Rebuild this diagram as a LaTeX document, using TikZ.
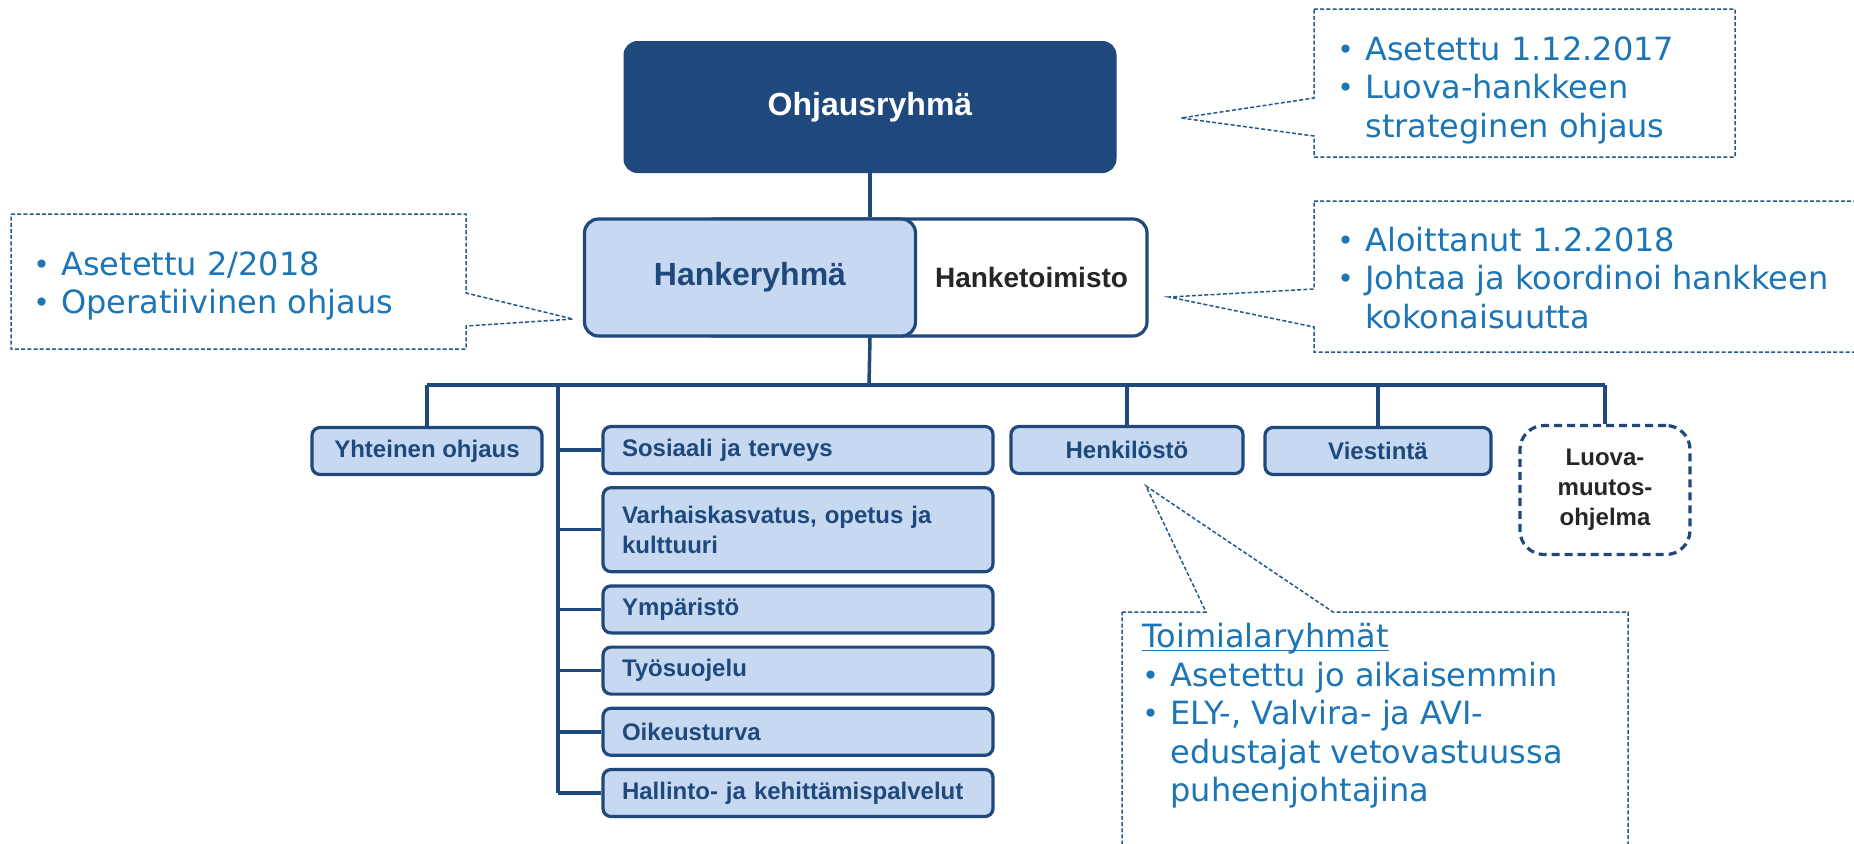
\documentclass[tikz,border=0pt]{standalone}
\usepackage{fontspec}
\setmainfont{Liberation Sans}
\newfontfamily\callfont{DejaVu Sans}
\usetikzlibrary{positioning,calc}
\definecolor{navy}{HTML}{1F497D}
\definecolor{paleblue}{HTML}{C6D9F1}
\definecolor{notetext}{HTML}{1B75B6}
\definecolor{noteline}{HTML}{24588A}
\newcommand{\bul}{\makebox[14pt][l]{\raisebox{0.5pt}{\fontsize{14}{14}\selectfont •}}}
\newcommand{\notehead}[1]{\underline{\raisebox{0pt}[\height][0pt]{#1}}}

\begin{document}
\begin{tikzpicture}[x=0.5pt,y=-0.5pt,
  unit/.style={
    draw=navy,
    line width=1.6pt,
    fill=paleblue,
    rounded corners=4pt,
    text=navy,
    minimum height=23.5pt,
    inner sep=0pt,
    font=\bfseries\fontsize{12}{15}\selectfont},
  sub/.style={unit, text width=176pt, align=left, inner xsep=9.5pt},
  link/.style={draw=navy, line width=1.75pt},
  note/.style={draw=noteline, line width=0.75pt, dash pattern=on 2pt off 1.1pt},
  notetxt/.style={font=\callfont\fontsize{16}{19.25}\selectfont, text=notetext, align=left, inner sep=0pt, anchor=west},
  ]

  \useasboundingbox (0,0) rectangle (1854,843);
  \clip (0,0) rectangle (1854,843);

  \node (steer) [fill=navy, rounded corners=7pt, minimum width=246.5pt, minimum height=66pt, text=white, font=\bfseries\fontsize{16}{19}\selectfont] at (870,107) {Ohjausryhmä};

  \node (office) [draw=navy, line width=1.6pt, fill=white, rounded corners=7pt, minimum height=58.5pt, text width=204.5pt, inner xsep=9.5pt, align=right, text=black!85, font=\bfseries\fontsize{14}{17}\selectfont] at (923.5,277.5) {Hanketoimisto};
  \node (project) [unit, rounded corners=7pt, minimum width=165.5pt, minimum height=58.5pt, font=\bfseries\fontsize{16}{19}\selectfont] at (750,277.5) {Hankeryhmä};

  \coordinate (bus) at (869,385);
  \coordinate (spine) at (558,385);

  \node (joint) [unit, minimum width=115pt] at (427,451) {Yhteinen ohjaus};
  \node (social) [sub] at (798,450) {Sosiaali ja terveys};
  \node (school) [sub, minimum height=42pt, below=5.5pt of social] {Varhaiskasvatus, opetus ja\\kulttuuri};
  \node (environ) [sub, below=5.5pt of school] {Ympäristö};
  \node (safety) [sub, below=5.5pt of environ] {Työsuojelu};
  \node (legal) [sub, below=5.5pt of safety] {Oikeusturva};
  \node (admin) [sub, below=5.5pt of legal] {Hallinto- ja kehittämispalvelut};
  \node (staff) [unit, minimum width=116pt] at (1127,450) {Henkilöstö};
  \node (comms) [unit, minimum width=113pt] at (1378,451) {Viestintä};
  \node (change) [unit, fill=white, dash pattern=on 4pt off 2.5pt, rounded corners=12pt, minimum width=85pt, minimum height=64.5pt, align=center, text=black!85] at (1605,490) {Luova-\\muutos-\\ohjelma};

  % org lines
  \draw[link] (steer.south) -- (steer.south |- project.north);
  \draw[link] (project.south -| steer.south) -- (bus);
  \draw[link] (joint.north |- bus) -- (change.north |- bus);
  \draw[link] (joint.north |- bus) -- (joint.north);
  \draw[link] (staff.north |- bus) -- (staff.north);
  \draw[link] (comms.north |- bus) -- (comms.north);
  \draw[link] (change.north |- bus) -- (change.north);
  \draw[link] (spine) -- (spine |- admin.west);
  \draw[link] (spine |- social.west) -- (social.west);
  \draw[link] (spine |- school.west) -- (school.west);
  \draw[link] (spine |- environ.west) -- (environ.west);
  \draw[link] (spine |- safety.west) -- (safety.west);
  \draw[link] (spine |- legal.west) -- (legal.west);
  \draw[link] (spine |- admin.west) -- (admin.west);

  % callouts
  \draw[note] (1314,9) -- (1735,9) -- (1735,157) -- (1314,157) -- (1314,136) -- (1181,118) -- (1314,98) -- cycle;
  \node (steernote) [notetxt] at (1337,90) {\bul Asetettu 1.12.2017\\\bul Luova-hankkeen\\\hspace*{14pt}strateginen ohjaus};

  \draw[note] (1314,201) -- (1900,201) -- (1900,352) -- (1314,352) -- (1314,327) -- (1169,297) -- (1314,289) -- cycle;
  \node (officenote) [notetxt] at (1337,278) {\bul Aloittanut 1.2.2018\\\bul Johtaa ja koordinoi hankkeen\\\hspace*{14pt}kokonaisuutta};

  \draw[note] (11,214) -- (466,214) -- (466,293) -- (573,319) -- (466,326) -- (466,349) -- (11,349) -- cycle;
  \node (projectnote) [notetxt] at (33,286) {\bul Asetettu 2/2018\\\bul Operatiivinen ohjaus};

  \draw[note] (1122,612) -- (1206,612) -- (1146,486) -- (1333,612) -- (1628,612) -- (1628,900) -- (1122,900) -- cycle;
  \node (staffnote) [notetxt] at (1142,716) {\notehead{Toimialaryhmät}\\\bul Asetettu jo aikaisemmin\\\bul ELY-, Valvira- ja AVI-\\\hspace*{14pt}edustajat vetovastuussa\\\hspace*{14pt}puheenjohtajina};

\end{tikzpicture}
\end{document}
